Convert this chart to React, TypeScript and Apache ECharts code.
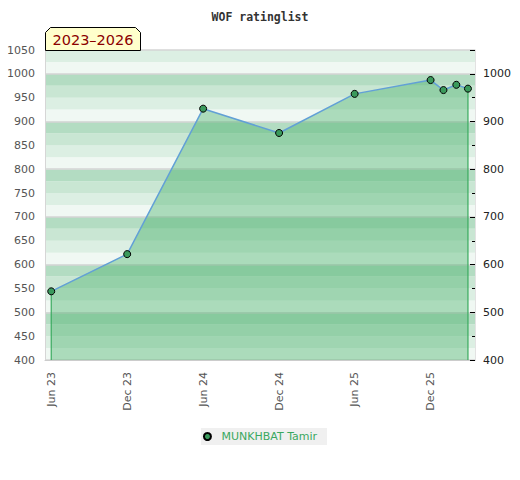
import React, { useEffect, useRef } from "react";
import * as echarts from "echarts";

// ---- data ----
const seriesName = "MUNKHBAT Tamir";
const ratingDates = [
  "2023-06-01",
  "2023-12-01",
  "2024-06-01",
  "2024-12-01",
  "2025-06-01",
  "2025-12-01",
  "2026-01-01",
  "2026-02-01",
  "2026-03-01",
];
const ratingValues = [544, 622, 927, 876, 958, 987, 966, 977, 969];
const xTickDates = [
  "2023-06-01",
  "2023-12-01",
  "2024-06-01",
  "2024-12-01",
  "2025-06-01",
  "2025-12-01",
];
const xTickLabels = ["Jun 23", "Dec 23", "Jun 24", "Dec 24", "Jun 25", "Dec 25"];
const xMinDate = "2023-05-17";
const xMaxDate = "2026-03-18";
const yMin = 400;
const yMax = 1050;
const periodLabel = "2023–2026";
const titleText = "WOF ratinglist";

const ts = (s: string) => {
  const [y, m, d] = s.split("-").map(Number);
  return Date.UTC(y, m - 1, d);
};

export default function App() {
  const ref = useRef<HTMLDivElement>(null);

  useEffect(() => {
    if (!ref.current) return;
    const chart = echarts.init(ref.current, undefined, { renderer: "svg" });

    const points = ratingDates.map((d, i) => [ts(d), ratingValues[i]]);
    const first = points[0];
    const last = points[points.length - 1];
    const tickTs = xTickDates.map(ts);

    const stripeColors = ["#f0f8f3", "#dcefe3", "#c9e6d3", "#b3dcc2"];
    const labelFont = { fontFamily: "DejaVu Sans", fontSize: 11, color: "#555" };
    const hiddenParts = {
      axisLine: { show: false },
      axisTick: { show: false },
      axisLabel: { show: false },
      splitLine: { show: false },
    };

    const option: any = {
      animation: false,
      title: {
        text: titleText,
        left: "center",
        top: 6,
        textStyle: {
          fontFamily: "DejaVu Sans Mono",
          fontWeight: "bold",
          fontSize: 11.5,
          color: "#333",
        },
      },
      grid: {
        left: 45,
        right: 45,
        top: 50,
        bottom: 120,
        outerBoundsMode: "none",
      },
      legend: {
        data: [{ name: seriesName, icon: "circle" }],
        left: "center",
        top: 428,
        backgroundColor: "#f0f0f0",
        padding: [3, 10, 3, 2],
        itemWidth: 18,
        itemHeight: 7,
        itemGap: 5,
        textStyle: { fontFamily: "DejaVu Sans", fontSize: 11, color: "#3aa860" },
      },
      xAxis: {
        type: "value",
        min: ts(xMinDate),
        max: ts(xMaxDate),
        axisLine: { show: true, lineStyle: { color: "#cccccc", width: 1 } },
        axisTick: { show: false },
        splitLine: { show: false },
        axisLabel: {
          ...labelFont,
          rotate: 90,
          margin: 12,
          customValues: tickTs,
          formatter: (v: number) => {
            const i = tickTs.indexOf(v);
            return i >= 0 ? xTickLabels[i] : "";
          },
        },
      },
      yAxis: [
        {
          type: "value",
          position: "left",
          min: yMin,
          max: yMax,
          interval: 50,
          axisLine: { show: true, lineStyle: { color: "#d6d6d6" } },
          axisTick: { show: false },
          splitLine: { show: false },
          axisLabel: { ...labelFont, margin: 10, formatter: (v: number) => String(v) },
        },
        {
          type: "value",
          position: "right",
          min: yMin,
          max: yMax,
          interval: 100,
          axisLine: { show: true, lineStyle: { color: "#e2e2e2" } },
          axisTick: { show: true, inside: true, length: 5, lineStyle: { color: "#000" } },
          splitLine: { show: false },
          axisLabel: {
            ...labelFont,
            color: "#222",
            margin: 8,
            formatter: (v: number) => (v % 100 === 0 ? String(v) : ""),
          },
        },
        {
          type: "value",
          position: "right",
          min: yMin,
          max: yMax,
          interval: 50,
          ...hiddenParts,
          axisTick: { show: true, inside: true, length: 3, lineStyle: { color: "#000" } },
        },
        {
          type: "value",
          position: "left",
          min: yMin,
          max: yMax,
          interval: 25,
          ...hiddenParts,
          splitArea: { show: true, areaStyle: { color: stripeColors } },
        },
        {
          type: "value",
          position: "left",
          min: yMin,
          max: yMax,
          interval: 100,
          ...hiddenParts,
          splitLine: { show: true, lineStyle: { color: "#d4d4d4", width: 1.5 } },
        },
      ],
      series: [
        {
          name: seriesName,
          type: "line",
          data: points,
          z: 4,
          symbol: "circle",
          symbolSize: 7,
          itemStyle: { color: "#3a9a5c", borderColor: "#000", borderWidth: 1 },
          lineStyle: { color: "#62a0d6", width: 1.5 },
          areaStyle: { color: "rgba(70,176,105,0.58)", origin: "start" },
        },
        {
          type: "line",
          data: [
            [first[0], yMin],
            [first[0], first[1]],
          ],
          z: 3,
          symbol: "none",
          lineStyle: { color: "#34a85a", width: 1.2 },
          silent: true,
        },
        {
          type: "line",
          data: [
            [last[0], yMin],
            [last[0], last[1]],
          ],
          z: 3,
          symbol: "none",
          lineStyle: { color: "#34a85a", width: 1.2 },
          silent: true,
        },
      ],
      graphic: [
        {
          type: "polygon",
          z: 100,
          shape: {
            points: [
              [45.5, 50.5],
              [45.5, 32.5],
              [50.5, 27.5],
              [135.5, 27.5],
              [140.5, 32.5],
              [140.5, 50.5],
            ],
          },
          style: { fill: "#ffffcc", stroke: "#000", lineWidth: 1 },
        },
        {
          type: "text",
          z: 101,
          x: 93,
          y: 40,
          style: {
            text: periodLabel,
            fontFamily: "DejaVu Sans",
            fontSize: 14.5,
            fill: "#8b0000",
            align: "center",
            verticalAlign: "middle",
          },
        },
      ],
    };

    chart.setOption(option);
    return () => chart.dispose();
  }, []);

  return (
    <div
      ref={ref}
      style={{ position: "fixed", left: 0, top: 0, width: 520, height: 480, background: "#fff" }}
    />
  );
}
